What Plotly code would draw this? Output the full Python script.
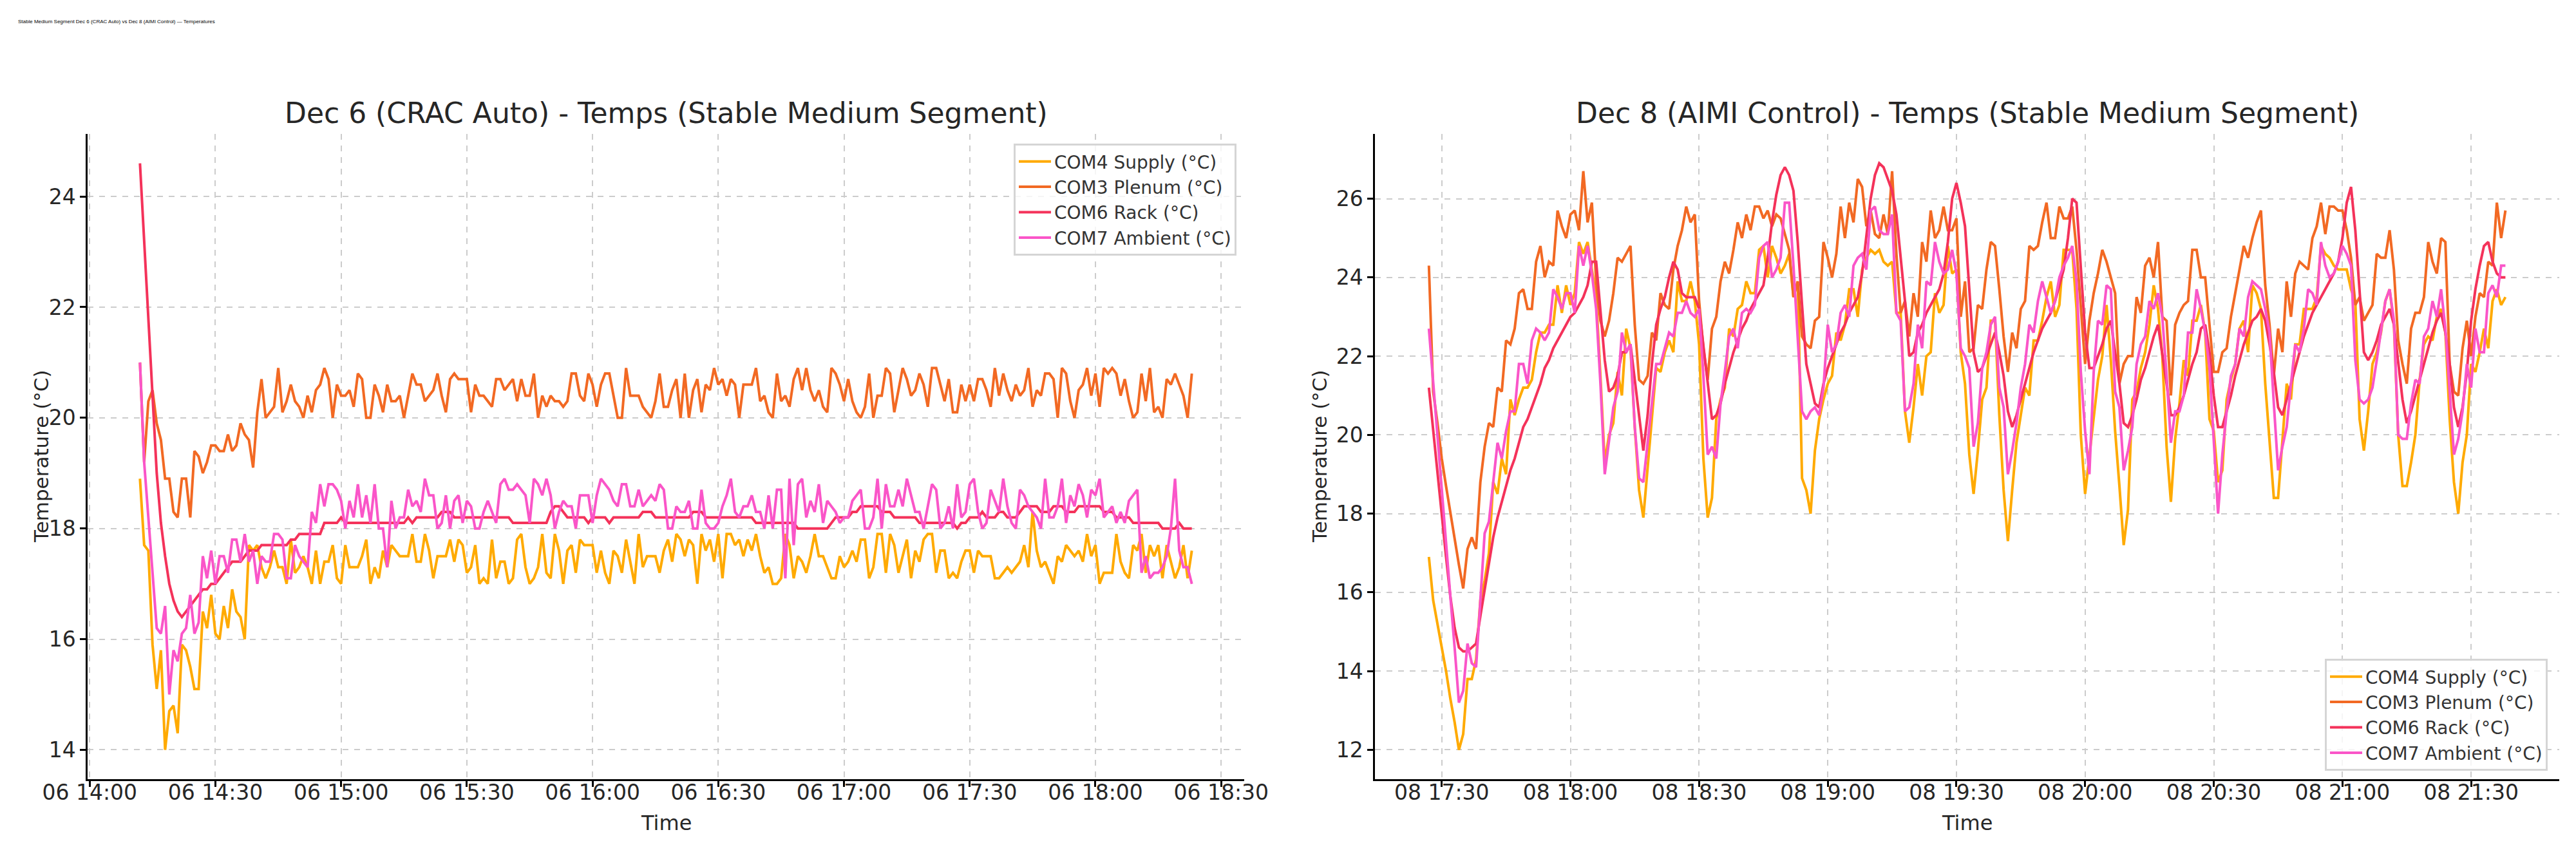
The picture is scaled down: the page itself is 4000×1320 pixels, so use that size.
import pandas as pd
import plotly.graph_objects as go

# ---- Dec 6 (CRAC Auto), 1-min samples from 14:12 ----
DEC6_START = "2024-12-06 14:12"
dec6_com3_plenum = [
    21.0, 19.2, 20.3, 20.5, 19.9, 19.6, 18.9, 18.9, 18.3, 18.2,
    18.9, 18.9, 18.2, 19.4, 19.3, 19.0, 19.2, 19.5, 19.5, 19.4,
    19.4, 19.7, 19.4, 19.5, 19.9, 19.7, 19.6, 19.1, 20.1, 20.7,
    20.0, 20.1, 20.2, 20.9, 20.1, 20.3, 20.6, 20.3, 20.2, 20.0,
    20.4, 20.1, 20.5, 20.6, 20.9, 20.7, 20.0, 20.6, 20.4, 20.4,
    20.5, 20.2, 20.8, 20.7, 20.0, 20.0, 20.6, 20.4, 20.1, 20.6,
    20.3, 20.3, 20.4, 20.0, 20.4, 20.8, 20.6, 20.6, 20.3, 20.4,
    20.5, 20.8, 20.4, 20.1, 20.7, 20.8, 20.7, 20.7, 20.7, 20.1,
    20.6, 20.4, 20.4, 20.3, 20.2, 20.7, 20.7, 20.5, 20.6, 20.7,
    20.3, 20.7, 20.4, 20.4, 20.8, 20.0, 20.4, 20.2, 20.4, 20.3,
    20.3, 20.2, 20.3, 20.8, 20.8, 20.4, 20.3, 20.8, 20.6, 20.2,
    20.6, 20.8, 20.8, 20.4, 20.0, 20.0, 20.9, 20.4, 20.4, 20.4,
    20.2, 20.1, 20.0, 20.3, 20.8, 20.2, 20.2, 20.5, 20.7, 20.0,
    20.8, 20.0, 20.5, 20.7, 20.1, 20.6, 20.5, 20.9, 20.6, 20.7,
    20.4, 20.7, 20.6, 20.0, 20.6, 20.6, 20.6, 20.9, 20.3, 20.4,
    20.1, 20.0, 20.8, 20.3, 20.4, 20.2, 20.7, 20.9, 20.5, 20.9,
    20.5, 20.3, 20.5, 20.2, 20.1, 20.9, 20.8, 20.6, 20.3, 20.7,
    20.3, 20.1, 20.0, 20.2, 20.8, 20.0, 20.4, 20.4, 20.9, 20.8,
    20.1, 20.5, 20.9, 20.7, 20.4, 20.5, 20.8, 20.6, 20.2, 20.9,
    20.9, 20.6, 20.3, 20.7, 20.1, 20.1, 20.6, 20.3, 20.6, 20.3,
    20.7, 20.7, 20.5, 20.2, 20.9, 20.4, 20.8, 20.5, 20.3, 20.6,
    20.4, 20.5, 20.9, 20.2, 20.5, 20.4, 20.8, 20.8, 20.7, 20.0,
    20.9, 20.8, 20.3, 20.0, 20.5, 20.6, 20.9, 20.4, 20.8, 20.2,
    20.9, 20.8, 20.9, 20.8, 20.4, 20.7, 20.3, 20.0, 20.1, 20.8,
    20.3, 20.9, 20.1, 20.2, 20.0, 20.7, 20.6, 20.8, 20.6, 20.4, 20.0, 20.8,
]
dec6_com6_rack = [
    24.6, 23.2, 21.7, 20.2, 19.0, 18.1, 17.5, 17.0, 16.7, 16.5,
    16.4, 16.5, 16.6, 16.7, 16.8, 16.9, 16.9, 17.0, 17.0, 17.1,
    17.2, 17.3, 17.4, 17.4, 17.4, 17.5, 17.6, 17.6, 17.6, 17.7,
    17.7, 17.7, 17.7, 17.7, 17.7, 17.7, 17.8, 17.8, 17.9, 17.9,
    17.9, 17.9, 17.9, 17.9, 18.1, 18.1, 18.1, 18.1, 18.2, 18.1,
    18.1, 18.1, 18.1, 18.1, 18.1, 18.1, 18.1, 18.1, 18.1, 18.1,
    18.1, 18.1, 18.1, 18.1, 18.2, 18.1, 18.2, 18.2, 18.2, 18.2,
    18.2, 18.2, 18.3, 18.3, 18.3, 18.2, 18.2, 18.2, 18.2, 18.2,
    18.2, 18.2, 18.2, 18.2, 18.2, 18.2, 18.2, 18.2, 18.2, 18.1,
    18.1, 18.1, 18.1, 18.1, 18.1, 18.1, 18.1, 18.1, 18.3, 18.4,
    18.4, 18.3, 18.2, 18.2, 18.2, 18.2, 18.2, 18.1, 18.2, 18.2,
    18.2, 18.2, 18.1, 18.2, 18.2, 18.2, 18.2, 18.2, 18.2, 18.2,
    18.3, 18.3, 18.3, 18.2, 18.2, 18.2, 18.2, 18.2, 18.2, 18.2,
    18.2, 18.2, 18.3, 18.3, 18.3, 18.2, 18.2, 18.2, 18.2, 18.2,
    18.2, 18.2, 18.2, 18.2, 18.2, 18.2, 18.2, 18.1, 18.1, 18.1,
    18.1, 18.1, 18.1, 18.1, 18.1, 18.1, 18.1, 18.0, 18.0, 18.0,
    18.0, 18.0, 18.0, 18.0, 18.0, 18.1, 18.2, 18.2, 18.2, 18.2,
    18.3, 18.3, 18.4, 18.4, 18.4, 18.4, 18.4, 18.3, 18.3, 18.3,
    18.2, 18.2, 18.2, 18.2, 18.2, 18.2, 18.1, 18.1, 18.1, 18.1,
    18.1, 18.1, 18.1, 18.1, 18.1, 18.0, 18.1, 18.1, 18.2, 18.2,
    18.2, 18.3, 18.2, 18.2, 18.2, 18.3, 18.3, 18.2, 18.2, 18.2,
    18.3, 18.4, 18.4, 18.4, 18.4, 18.3, 18.3, 18.3, 18.4, 18.4,
    18.4, 18.3, 18.3, 18.3, 18.4, 18.4, 18.4, 18.4, 18.4, 18.4,
    18.3, 18.3, 18.3, 18.2, 18.2, 18.2, 18.2, 18.1, 18.1, 18.1,
    18.1, 18.1, 18.1, 18.1, 18.0, 18.0, 18.0, 18.0, 18.1, 18.0, 18.0, 18.0,
]
dec6_com7_ambient = [
    21.0, 19.2, 18.2, 17.2, 16.2, 16.1, 16.6, 15.0, 15.8, 15.6,
    16.1, 16.2, 16.8, 16.1, 16.3, 17.5, 17.1, 17.6, 17.0, 17.5,
    17.5, 17.2, 17.8, 17.8, 17.4, 17.9, 17.4, 17.6, 17.0, 17.5,
    17.4, 17.4, 17.9, 17.9, 17.8, 17.1, 17.1, 17.7, 17.5, 17.4,
    17.3, 18.3, 18.1, 18.8, 18.4, 18.8, 18.8, 18.7, 18.5, 18.0,
    18.5, 18.2, 18.8, 18.2, 18.6, 18.1, 18.8, 18.0, 18.0, 17.3,
    18.5, 18.0, 18.2, 18.2, 18.7, 18.4, 18.5, 18.3, 18.9, 18.6,
    18.6, 18.0, 18.1, 18.6, 18.0, 18.5, 18.6, 18.1, 18.5, 18.4,
    18.0, 18.0, 18.3, 18.5, 18.3, 18.1, 18.8, 18.9, 18.7, 18.7,
    18.8, 18.7, 18.6, 18.1, 18.9, 18.8, 18.6, 18.9, 18.6, 18.0,
    18.3, 18.5, 18.4, 18.4, 18.0, 18.6, 18.6, 18.6, 18.1, 18.6,
    18.9, 18.8, 18.7, 18.5, 18.4, 18.8, 18.8, 18.4, 18.4, 18.7,
    18.4, 18.5, 18.6, 18.5, 18.8, 18.7, 18.0, 18.0, 18.4, 18.3,
    18.3, 18.5, 18.0, 18.0, 18.7, 18.1, 18.0, 18.0, 18.1, 18.4,
    18.6, 18.9, 18.3, 18.2, 18.4, 18.4, 18.6, 18.3, 18.3, 18.0,
    18.6, 18.0, 18.7, 18.7, 17.1, 18.9, 17.7, 18.8, 18.9, 18.2,
    18.5, 18.3, 18.8, 18.1, 18.5, 18.4, 18.3, 18.1, 18.2, 18.2,
    18.5, 18.6, 18.7, 18.0, 18.0, 18.2, 18.9, 18.0, 18.8, 18.4,
    18.4, 18.7, 18.4, 18.9, 18.6, 18.3, 18.3, 18.0, 18.4, 18.8,
    18.7, 18.0, 18.1, 18.4, 18.0, 18.8, 18.2, 18.3, 18.8, 18.9,
    18.3, 18.0, 18.1, 18.7, 18.5, 18.3, 18.9, 18.4, 18.1, 18.0,
    18.7, 18.6, 18.4, 18.3, 18.2, 18.0, 18.9, 18.2, 18.2, 18.4,
    18.9, 18.1, 18.6, 18.4, 18.8, 18.6, 18.2, 18.7, 18.6, 18.9,
    18.2, 18.3, 18.4, 18.1, 18.3, 18.1, 18.5, 18.6, 18.7, 17.2,
    17.5, 17.1, 17.2, 17.2, 17.3, 17.5, 18.0, 18.9, 17.6, 17.3, 17.3, 17.0,
]
dec6_com4_supply = [
    18.9, 17.7, 17.6, 15.9, 15.1, 15.8, 14.0, 14.7, 14.8, 14.3,
    15.9, 15.8, 15.5, 15.1, 15.1, 16.5, 16.2, 16.8, 16.1, 16.0,
    16.6, 16.2, 16.9, 16.5, 16.4, 16.0, 17.7, 17.6, 17.7, 17.3,
    17.1, 17.3, 17.6, 17.3, 17.3, 17.0, 17.8, 17.2, 17.3, 17.5,
    17.3, 17.0, 17.6, 17.0, 17.4, 17.4, 17.7, 17.1, 17.0, 17.7,
    17.3, 17.3, 17.3, 17.5, 17.8, 17.0, 17.3, 17.1, 17.6, 17.3,
    17.7, 17.6, 17.5, 17.5, 17.5, 17.9, 17.4, 17.4, 17.9, 17.6,
    17.1, 17.5, 17.5, 17.5, 17.8, 17.4, 17.8, 17.7, 17.2, 17.3,
    17.7, 17.0, 17.1, 17.0, 17.8, 17.1, 17.4, 17.4, 17.0, 17.1,
    17.8, 17.9, 17.3, 17.0, 17.1, 17.3, 17.9, 17.2, 17.1, 17.9,
    17.6, 17.0, 17.6, 17.7, 17.2, 17.8, 17.7, 17.7, 17.7, 17.2,
    17.6, 17.2, 17.0, 17.6, 17.5, 17.2, 17.8, 17.4, 17.0, 17.9,
    17.3, 17.5, 17.5, 17.5, 17.2, 17.6, 17.8, 17.4, 17.9, 17.8,
    17.5, 17.8, 17.7, 17.0, 17.9, 17.6, 17.8, 17.4, 17.9, 17.1,
    17.9, 17.9, 17.7, 17.8, 17.5, 17.8, 17.6, 17.9, 17.5, 17.2,
    17.3, 17.0, 17.0, 17.1, 17.9, 17.7, 17.1, 17.5, 17.4, 17.2,
    17.5, 17.9, 17.5, 17.5, 17.3, 17.1, 17.1, 17.5, 17.3, 17.4,
    17.6, 17.4, 17.8, 17.8, 17.1, 17.3, 17.9, 17.9, 17.2, 17.9,
    17.7, 17.2, 17.5, 17.8, 17.1, 17.6, 17.4, 17.8, 17.9, 17.9,
    17.2, 17.6, 17.6, 17.1, 17.2, 17.1, 17.4, 17.6, 17.6, 17.2,
    17.6, 17.5, 17.5, 17.5, 17.1, 17.1, 17.2, 17.3, 17.2, 17.3,
    17.4, 17.7, 17.3, 18.3, 17.6, 17.3, 17.4, 17.2, 17.0, 17.5,
    17.4, 17.7, 17.6, 17.5, 17.6, 17.4, 17.9, 17.5, 17.7, 17.0,
    17.2, 17.2, 17.2, 17.9, 17.4, 17.2, 17.1, 17.7, 17.6, 17.9,
    17.2, 17.7, 17.5, 17.7, 17.1, 17.7, 17.4, 17.1, 17.3, 17.7, 17.1, 17.6,
]

# ---- Dec 8 (AIMI Control), 1-min samples from 17:27 ----
DEC8_START = "2024-12-08 17:27"
dec8_com3_plenum = [
    24.3, 21.1, 20.3, 19.4, 18.7, 18.0, 17.4, 16.7, 16.1, 17.1,
    17.4, 17.1, 18.8, 19.7, 20.3, 20.2, 21.2, 21.1, 22.4, 22.3,
    22.7, 23.6, 23.7, 23.2, 23.2, 24.4, 24.8, 24.0, 24.4, 24.3,
    25.7, 25.3, 25.0, 25.6, 25.7, 25.2, 26.7, 25.4, 25.9, 23.9,
    22.9, 22.5, 22.9, 23.6, 24.5, 24.4, 24.6, 24.8, 22.8, 21.4,
    21.3, 21.5, 22.6, 22.4, 23.6, 23.3, 23.2, 24.2, 24.8, 25.2,
    25.8, 25.4, 25.6, 23.4, 22.2, 21.4, 22.7, 23.0, 23.9, 24.4,
    24.1, 24.7, 25.4, 25.0, 25.6, 25.2, 25.8, 25.8, 25.5, 25.7,
    25.3, 25.6, 25.5, 25.1, 24.7, 23.5, 23.9, 22.5, 22.3, 22.2,
    22.9, 23.0, 24.9, 24.5, 24.0, 24.6, 25.8, 25.0, 25.9, 25.4,
    26.5, 26.3, 25.3, 25.7, 25.1, 25.0, 25.6, 25.1, 26.7, 24.6,
    23.1, 23.4, 22.5, 23.6, 23.0, 24.9, 24.4, 25.7, 25.0, 25.2,
    25.8, 25.2, 25.2, 25.5, 23.0, 23.9, 22.1, 22.2, 23.3, 23.2,
    24.2, 24.9, 24.8, 23.7, 22.5, 21.6, 22.6, 22.2, 23.2, 23.4,
    24.8, 24.7, 24.8, 25.4, 25.9, 25.0, 25.0, 25.8, 25.5, 25.5,
    25.8, 24.7, 23.2, 21.8, 22.9, 23.6, 24.1, 24.7, 24.4, 24.0,
    23.6, 21.3, 21.8, 22.0, 22.0, 23.5, 23.1, 24.3, 24.5, 24.0,
    24.9, 23.0, 22.9, 21.0, 22.8, 23.1, 23.3, 23.4, 24.7, 24.7,
    24.0, 24.0, 22.8, 21.6, 21.6, 22.1, 22.2, 23.0, 23.6, 24.2,
    24.8, 24.5, 25.0, 25.4, 25.7, 23.8, 22.8, 21.5, 22.7, 22.1,
    23.9, 23.0, 24.1, 24.4, 24.3, 24.2, 25.0, 25.3, 25.9, 25.1,
    25.8, 25.8, 25.7, 25.7, 25.2, 24.5, 23.3, 23.5, 22.9, 23.1,
    23.3, 24.6, 24.5, 24.5, 25.2, 24.2, 22.4, 21.8, 21.3, 22.7,
    23.1, 23.1, 23.5, 24.9, 24.4, 24.1, 25.0, 24.9, 21.8, 21.1,
    21.0, 22.2, 22.9, 22.0, 23.0, 23.6, 23.5, 24.4, 24.3, 25.9, 25.0, 25.7,
]
dec8_com6_rack = [
    21.2, 20.1, 19.0, 17.9, 16.9, 15.9, 15.1, 14.6, 14.5, 14.5,
    14.6, 14.7, 15.4, 16.1, 16.8, 17.4, 17.9, 18.3, 18.7, 19.1,
    19.4, 19.8, 20.2, 20.4, 20.7, 21.0, 21.3, 21.7, 21.9, 22.2,
    22.4, 22.6, 22.8, 23.0, 23.1, 23.3, 23.5, 23.8, 24.4, 24.4,
    23.1, 21.9, 21.1, 21.2, 21.5, 22.1, 22.1, 22.3, 21.4, 20.5,
    19.6, 20.5, 21.8, 22.8, 23.2, 23.5, 24.0, 24.4, 24.2, 23.6,
    23.5, 23.5, 23.5, 23.2, 22.3, 21.4, 20.4, 20.5, 20.8, 21.3,
    21.7, 22.1, 22.4, 22.7, 22.9, 23.2, 23.4, 23.6, 23.8, 24.5,
    25.4, 26.1, 26.6, 26.8, 26.6, 26.2, 24.9, 23.3, 21.8, 21.3,
    20.8, 20.7, 21.3, 21.7, 22.0, 22.3, 22.6, 22.8, 23.1, 23.3,
    23.5, 24.1, 25.0, 26.0, 26.6, 26.9, 26.8, 26.5, 26.2, 25.6,
    24.5, 23.4, 22.0, 22.1, 22.6, 22.8, 23.1, 23.3, 23.5, 23.7,
    24.1, 24.9, 26.0, 26.4, 25.9, 25.3, 23.7, 22.1, 21.6, 21.7,
    22.0, 22.3, 22.6, 22.1, 21.5, 20.6, 20.2, 20.5, 20.9, 21.3,
    21.7, 22.1, 22.4, 22.7, 22.9, 23.1, 23.4, 23.8, 24.2, 25.0,
    26.0, 25.9, 24.2, 22.6, 21.7, 21.7, 22.0, 22.3, 22.7, 22.9,
    22.1, 21.3, 20.3, 20.2, 20.5, 20.9, 21.4, 21.7, 22.1, 22.5,
    22.8, 22.1, 21.3, 20.5, 20.5, 20.7, 21.0, 21.4, 21.8, 22.1,
    22.7, 22.8, 22.1, 21.0, 20.2, 20.2, 20.6, 21.0, 21.5, 21.9,
    22.3, 22.6, 22.9, 23.0, 23.2, 22.9, 22.3, 21.6, 20.7, 20.5,
    20.9, 21.3, 21.7, 22.1, 22.5, 22.8, 23.1, 23.3, 23.5, 23.7,
    23.9, 24.1, 24.4, 25.0, 25.9, 26.3, 25.2, 23.7, 22.1, 21.9,
    22.1, 22.4, 22.8, 23.0, 23.2, 22.8, 21.8, 20.9, 20.3, 20.6,
    21.0, 21.4, 21.8, 22.2, 22.6, 22.9, 23.1, 22.6, 21.8, 20.7,
    20.2, 20.7, 21.6, 22.9, 23.7, 24.3, 24.8, 24.9, 24.4, 24.1, 24.0, 24.0,
]
dec8_com7_ambient = [
    22.7, 21.3, 20.0, 18.6, 17.3, 15.9, 14.6, 13.2, 13.5, 14.7,
    14.2, 14.1, 15.8, 17.5, 17.8, 18.8, 19.8, 19.4, 20.1, 20.6,
    20.6, 21.8, 21.8, 21.3, 22.4, 22.7, 22.6, 22.4, 22.6, 23.7,
    23.5, 23.2, 23.6, 23.6, 23.1, 24.8, 24.3, 24.8, 24.1, 23.2,
    21.3, 19.0, 19.9, 20.7, 21.1, 22.6, 22.1, 22.3, 20.2, 18.9,
    18.8, 19.8, 20.9, 21.8, 21.8, 22.2, 22.6, 22.5, 23.1, 23.1,
    23.4, 23.1, 23.0, 23.2, 21.5, 19.5, 19.7, 19.4, 20.8, 21.6,
    22.5, 22.7, 22.2, 23.1, 23.2, 23.1, 23.3, 24.5, 24.8, 24.9,
    24.0, 24.2, 24.5, 25.9, 25.9, 24.3, 22.4, 20.6, 20.4, 20.6,
    20.7, 20.5, 21.2, 22.8, 22.1, 22.3, 23.1, 23.3, 23.0, 24.3,
    24.5, 24.6, 24.2, 25.7, 25.8, 25.2, 25.1, 25.1, 25.6, 23.1,
    22.9, 20.6, 20.7, 21.3, 22.8, 22.2, 23.9, 23.8, 24.9, 24.4,
    24.1, 24.2, 24.7, 24.1, 22.2, 22.0, 21.7, 19.7, 20.3, 21.7,
    22.1, 22.8, 23.0, 21.2, 20.7, 19.0, 19.6, 20.3, 21.2, 21.8,
    22.8, 22.6, 23.4, 23.9, 23.5, 23.1, 23.4, 24.0, 24.3, 24.5,
    24.8, 23.9, 21.6, 20.1, 19.0, 21.6, 22.9, 22.8, 23.8, 23.7,
    21.1, 20.7, 19.1, 19.6, 20.2, 21.8, 22.3, 22.5, 23.4, 23.2,
    23.6, 23.0, 21.5, 19.8, 20.6, 20.6, 21.0, 22.6, 22.6, 23.7,
    23.2, 22.6, 21.7, 19.9, 18.0, 19.5, 20.6, 21.5, 21.8, 22.7,
    22.5, 23.5, 23.9, 23.8, 23.7, 23.2, 22.6, 20.8, 19.1, 19.7,
    20.2, 21.3, 22.3, 22.1, 22.7, 23.7, 23.6, 23.3, 24.9, 24.3,
    24.0, 24.1, 24.4, 24.8, 24.6, 24.3, 21.9, 20.9, 20.8, 20.9,
    21.2, 21.9, 22.7, 23.4, 23.7, 22.9, 20.0, 19.9, 19.9, 20.8,
    21.4, 21.3, 22.5, 22.7, 23.4, 23.0, 23.7, 22.7, 21.1, 19.5,
    19.9, 20.6, 21.8, 21.2, 22.7, 22.1, 22.1, 23.6, 23.8, 23.5, 24.3, 24.3,
]
dec8_com4_supply = [
    16.9, 15.8, 15.2, 14.6, 14.0, 13.3, 12.7, 12.0, 12.4, 13.8,
    13.8, 14.3, 15.8, 16.3, 17.0, 18.8, 18.5, 19.4, 19.0, 20.9,
    20.5, 20.9, 21.2, 21.2, 21.4, 22.1, 22.6, 22.6, 22.8, 22.8,
    23.8, 23.1, 23.8, 23.3, 23.6, 24.9, 24.6, 24.9, 24.2, 23.5,
    21.5, 19.3, 20.0, 20.3, 21.6, 21.0, 22.7, 22.2, 20.2, 18.6,
    17.9, 19.2, 20.4, 21.7, 21.6, 22.1, 22.4, 22.1, 23.9, 23.4,
    23.4, 23.9, 23.4, 22.3, 19.4, 17.9, 18.4, 20.4, 20.9, 21.2,
    22.7, 22.5, 23.2, 23.3, 23.9, 23.6, 23.6, 24.7, 24.8, 24.0,
    24.8, 24.5, 24.1, 24.3, 24.6, 23.5, 23.9, 18.9, 18.6, 18.0,
    19.6, 20.4, 20.9, 21.3, 21.5, 22.6, 22.4, 22.8, 23.7, 23.7,
    23.0, 24.2, 24.5, 24.7, 24.6, 24.7, 24.4, 24.3, 24.4, 23.1,
    23.1, 20.6, 19.8, 20.7, 21.8, 21.0, 22.0, 22.1, 23.6, 23.1,
    23.3, 24.8, 24.1, 24.2, 22.1, 21.3, 19.5, 18.5, 19.6, 20.9,
    21.2, 22.9, 22.9, 20.5, 18.6, 17.3, 18.6, 19.8, 20.5, 21.2,
    21.0, 22.4, 22.4, 22.9, 23.5, 23.9, 23.0, 23.3, 24.7, 24.7,
    24.7, 23.2, 20.0, 18.5, 19.5, 20.5, 21.4, 22.0, 23.3, 21.9,
    20.1, 18.7, 17.2, 18.1, 20.9, 21.1, 21.7, 22.1, 22.8, 23.8,
    23.2, 22.0, 19.7, 18.3, 19.9, 20.8, 21.9, 21.5, 22.9, 22.9,
    23.3, 22.6, 20.4, 20.1, 18.8, 19.1, 20.9, 21.4, 21.8, 22.7,
    22.9, 22.1, 23.8, 23.6, 23.2, 21.3, 19.9, 18.4, 18.4, 19.8,
    21.3, 20.9, 22.3, 22.3, 23.2, 23.2, 23.2, 23.5, 24.8, 24.6,
    24.5, 24.3, 24.2, 24.2, 24.2, 23.7, 23.4, 20.4, 19.6, 20.6,
    21.8, 22.1, 22.6, 23.4, 23.7, 22.8, 20.0, 18.7, 18.7, 19.3,
    20.0, 21.4, 22.3, 22.5, 22.4, 23.0, 23.2, 22.6, 20.4, 18.8,
    18.0, 19.3, 20.0, 21.8, 21.6, 22.1, 22.7, 22.2, 23.4, 23.7, 23.3, 23.5,
]

SERIES = [
    ("COM4 Supply (°C)", "#FFAA00"),
    ("COM3 Plenum (°C)", "#F26923"),
    ("COM6 Rack (°C)", "#F4325A"),
    ("COM7 Ambient (°C)", "#FA55C8"),
]
dec6 = [dec6_com4_supply, dec6_com3_plenum, dec6_com6_rack, dec6_com7_ambient]
dec8 = [dec8_com4_supply, dec8_com3_plenum, dec8_com6_rack, dec8_com7_ambient]

TXT = "#262626"
FONT = "DejaVu Sans"

fig = go.Figure()
for (name, color), y in zip(SERIES, dec6):
    x = pd.date_range(DEC6_START, periods=len(y), freq="min")
    fig.add_trace(go.Scatter(x=x, y=y, mode="lines", name=name,
                             line=dict(color=color, width=4),
                             xaxis="x", yaxis="y", legend="legend"))
for (name, color), y in zip(SERIES, dec8):
    x = pd.date_range(DEC8_START, periods=len(y), freq="min")
    fig.add_trace(go.Scatter(x=x, y=y, mode="lines", name=name,
                             line=dict(color=color, width=4),
                             xaxis="x2", yaxis="y2", legend="legend2"))

axis_style = dict(
    showgrid=True, gridcolor="#CCCCCC", griddash="dash", gridwidth=2,
    showline=True, linecolor="black", linewidth=2.5, mirror=False,
    ticks="outside", ticklen=9, tickwidth=2.5, tickcolor="black",
    tickfont=dict(size=33, color=TXT, family=FONT), zeroline=False,
    automargin=False,
)
x_style = dict(axis_style, type="date", tickformat="%d %H:%M", dtick=1800000,
               ticklabelstandoff=-19)

legend_style = dict(
    bgcolor="rgba(255,255,255,0.8)", bordercolor="#D5D5D5", borderwidth=3,
    font=dict(size=28, color="#333333", family=FONT), itemwidth=50,
)

H = 1320.0
fig.update_layout(
    template="none",
    width=4000, height=1320,
    margin=dict(l=0, r=0, t=0, b=0, pad=0, autoexpand=False),
    paper_bgcolor="white", plot_bgcolor="white",
    font=dict(family=FONT, color=TXT),
    xaxis=dict(x_style, domain=[0.032, 0.481], anchor="y",
               range=["2024-12-06 13:59:30", "2024-12-06 18:35:30"],
               tick0="2024-12-06 14:00"),
    yaxis=dict(axis_style, domain=[1 - 1202 / H, 1 - 200 / H], anchor="x",
               range=[13.47, 25.13], dtick=2, tick0=0),
    xaxis2=dict(x_style, domain=[0.5318, 0.9915], anchor="y2",
                range=["2024-12-08 17:14:27", "2024-12-08 21:50:33"],
                tick0="2024-12-08 17:30"),
    yaxis2=dict(axis_style, domain=[1 - 1202 / H, 1 - 200 / H], anchor="x2",
                range=[11.255, 27.645], dtick=2, tick0=0),
    legend=dict(legend_style, x=0.478, y=1 - 215 / H, xanchor="right", yanchor="top"),
    legend2=dict(legend_style, x=0.987, y=1 - 1189 / H, xanchor="right", yanchor="bottom"),
    showlegend=True,
)

# titles and axis labels
ann = [
    dict(text="Stable Medium Segment Dec 6 (CRAC Auto) vs Dec 8 (AIMI Control) — Temperatures",
         x=18 / 4000, y=1 - 26 / H, xanchor="left", yanchor="middle",
         font=dict(size=8, family="Liberation Sans", color="black")),
    dict(text="Dec 6 (CRAC Auto) - Temps (Stable Medium Segment)",
         x=(128 + 1924) / 2 / 4000, y=1 - 168 / H, xanchor="center", yanchor="middle",
         font=dict(size=44, family=FONT, color=TXT)),
    dict(text="Dec 8 (AIMI Control) - Temps (Stable Medium Segment)",
         x=(2127 + 3966) / 2 / 4000, y=1 - 168 / H, xanchor="center", yanchor="middle",
         font=dict(size=44, family=FONT, color=TXT)),
    dict(text="Time", x=(128 + 1924) / 2 / 4000, y=1 - 1270 / H,
         xanchor="center", yanchor="middle", font=dict(size=32, family=FONT, color=TXT)),
    dict(text="Time", x=(2127 + 3966) / 2 / 4000, y=1 - 1270 / H,
         xanchor="center", yanchor="middle", font=dict(size=32, family=FONT, color=TXT)),
    dict(text="Temperature (°C)", x=56 / 4000, y=1 - 701 / H, textangle=-90,
         xanchor="center", yanchor="middle", font=dict(size=31, family=FONT, color=TXT)),
    dict(text="Temperature (°C)", x=2041 / 4000, y=1 - 701 / H, textangle=-90,
         xanchor="center", yanchor="middle", font=dict(size=31, family=FONT, color=TXT)),
]
for a in ann:
    fig.add_annotation(xref="paper", yref="paper", showarrow=False, **a)

fig.write_html("out.html")
